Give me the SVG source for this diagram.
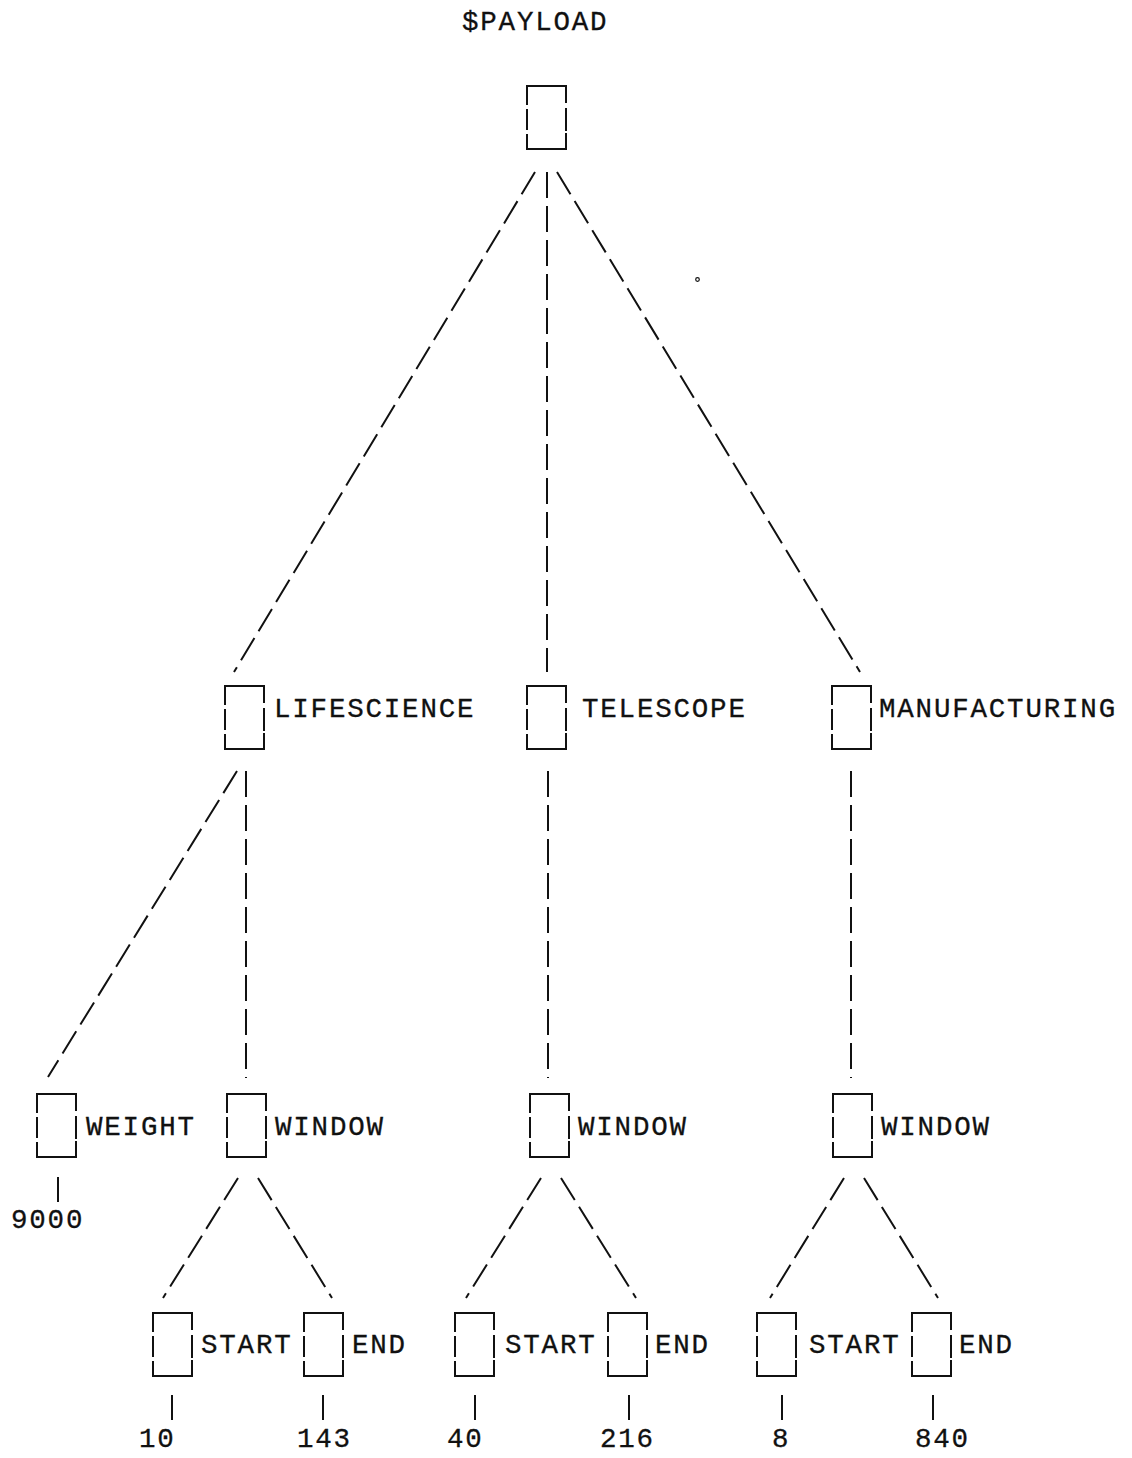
<svg xmlns="http://www.w3.org/2000/svg" width="1132" height="1458" viewBox="0 0 1132 1458">
<style>
.t{font-family:"Liberation Mono","DejaVu Sans Mono",monospace;font-size:27.5px;letter-spacing:1.8px;fill:#111;stroke:#111;stroke-width:0.3}
.bx{fill:none;stroke:#111;stroke-width:2;stroke-linecap:butt}
.c{fill:none;stroke:#111;stroke-width:2;stroke-dasharray:26 8}
.s{fill:none;stroke:#111;stroke-width:2}
</style>
<defs>
<g id="box">
<path class="bx" d="M0,19 V0 H39 V17"/>
<path class="bx" d="M0,23 V44 M39,22 V45"/>
<path class="bx" d="M0,48 V63 H39 V47"/>
</g>
</defs>
<rect width="1132" height="1458" fill="#fff"/>
<g id="connectors">
<line class="c" x1="535" y1="172" x2="234" y2="672"/>
<line class="c" x1="547" y1="172" x2="547" y2="672"/>
<line class="c" x1="557" y1="172" x2="860" y2="672"/>
<line class="c" x1="237" y1="771" x2="48" y2="1077"/>
<line class="c" x1="246" y1="771" x2="246" y2="1078"/>
<line class="c" x1="548" y1="771" x2="548" y2="1078"/>
<line class="c" x1="851" y1="771" x2="851" y2="1078"/>
<line class="c" x1="238" y1="1178" x2="163" y2="1298"/>
<line class="c" x1="258" y1="1178" x2="332" y2="1298"/>
<line class="c" x1="541" y1="1178" x2="466" y2="1298"/>
<line class="c" x1="561" y1="1178" x2="636" y2="1298"/>
<line class="c" x1="844" y1="1178" x2="770" y2="1298"/>
<line class="c" x1="864" y1="1178" x2="938" y2="1298"/>
<line class="s" x1="58" y1="1177" x2="58" y2="1202"/>
<line class="s" x1="172" y1="1395" x2="172" y2="1420"/>
<line class="s" x1="323" y1="1395" x2="323" y2="1420"/>
<line class="s" x1="475" y1="1395" x2="475" y2="1420"/>
<line class="s" x1="629" y1="1395" x2="629" y2="1420"/>
<line class="s" x1="782" y1="1395" x2="782" y2="1420"/>
<line class="s" x1="933" y1="1395" x2="933" y2="1420"/>
</g>
<g id="payload">
<text class="t" x="462" y="30">$PAYLOAD</text>
<use href="#box" x="527" y="86"/>
</g>
<g id="lifescience">
<use href="#box" x="225" y="686"/>
<text class="t" x="274" y="717">LIFESCIENCE</text>
</g>
<g id="telescope">
<use href="#box" x="527" y="686"/>
<text class="t" x="582" y="717">TELESCOPE</text>
</g>
<g id="manufacturing">
<use href="#box" x="832" y="686"/>
<text class="t" x="879" y="717">MANUFACTURING</text>
</g>
<g id="weight">
<use href="#box" x="37" y="1094"/>
<text class="t" x="86" y="1135">WEIGHT</text>
</g>
<g id="weight-value"><text class="t" x="11" y="1228">9000</text></g>
<g id="window-ls">
<use href="#box" x="227" y="1094"/>
<text class="t" x="275" y="1135">WINDOW</text>
</g>
<g id="window-tel">
<use href="#box" x="530" y="1094"/>
<text class="t" x="578" y="1135">WINDOW</text>
</g>
<g id="window-man">
<use href="#box" x="833" y="1094"/>
<text class="t" x="881" y="1135">WINDOW</text>
</g>
<g id="start-ls">
<use href="#box" x="153" y="1313"/>
<text class="t" x="201" y="1353">START</text>
</g>
<g id="end-ls">
<use href="#box" x="304" y="1313"/>
<text class="t" x="352" y="1353">END</text>
</g>
<g id="start-ls-value"><text class="t" x="139" y="1447">10</text></g>
<g id="end-ls-value"><text class="t" x="297" y="1447">143</text></g>
<g id="start-tel">
<use href="#box" x="455" y="1313"/>
<text class="t" x="505" y="1353">START</text>
</g>
<g id="end-tel">
<use href="#box" x="608" y="1313"/>
<text class="t" x="655" y="1353">END</text>
</g>
<g id="start-tel-value"><text class="t" x="447" y="1447">40</text></g>
<g id="end-tel-value"><text class="t" x="600" y="1447">216</text></g>
<g id="start-man">
<use href="#box" x="757" y="1313"/>
<text class="t" x="809" y="1353">START</text>
</g>
<g id="end-man">
<use href="#box" x="912" y="1313"/>
<text class="t" x="959" y="1353">END</text>
</g>
<g id="start-man-value"><text class="t" x="772" y="1447">8</text></g>
<g id="end-man-value"><text class="t" x="915" y="1447">840</text></g>
<circle cx="697.5" cy="279.5" r="1.8" fill="none" stroke="#111" stroke-width="1.2"/>
</svg>
